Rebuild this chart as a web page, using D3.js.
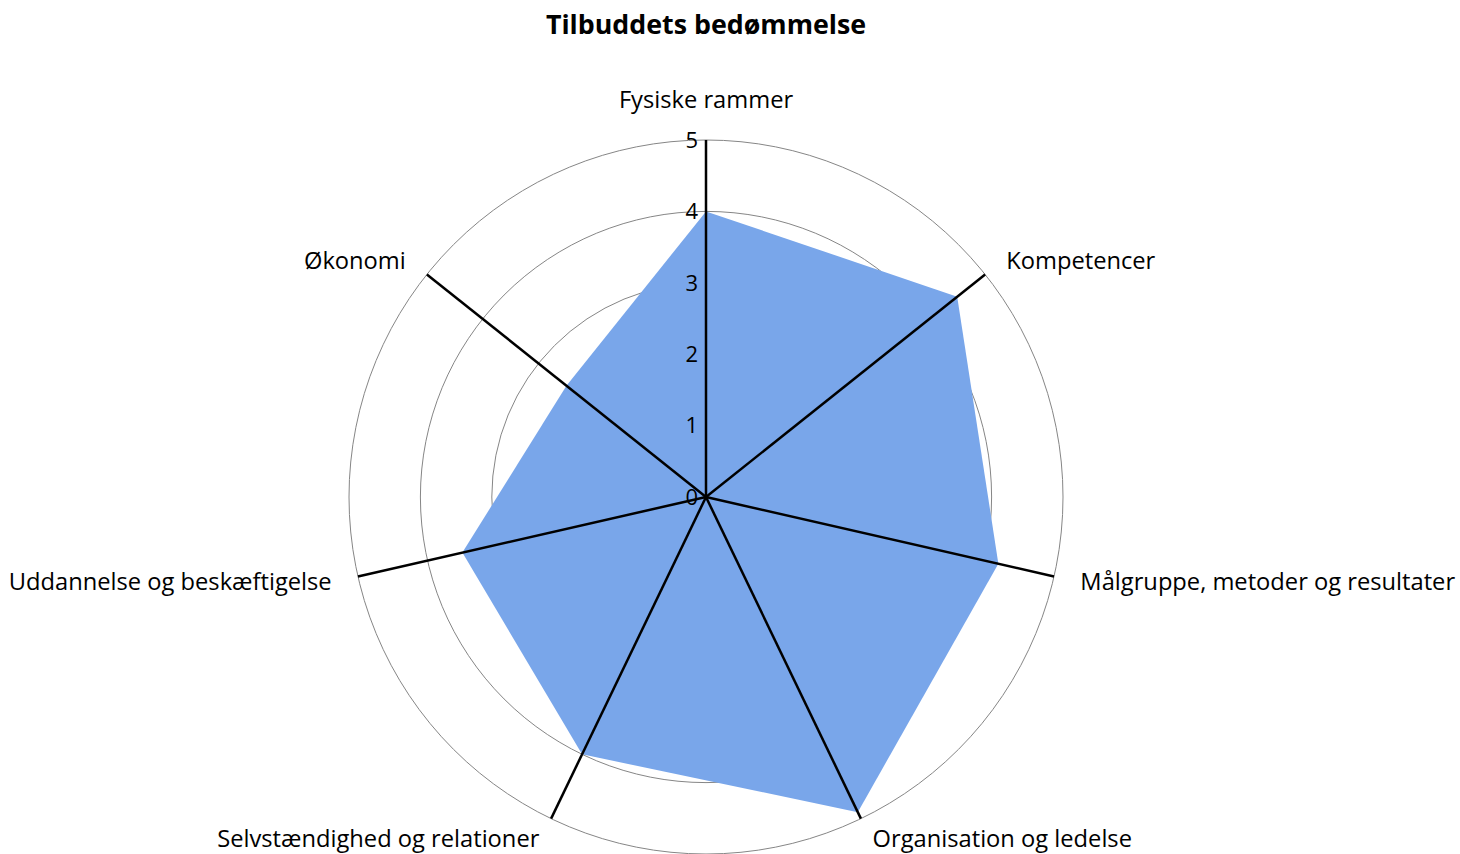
<!DOCTYPE html>
<html>
<head>
<meta charset="utf-8">
<script src="https://cdn.jsdelivr.net/npm/d3@7"></script>
<style>
  body { margin: 0; background: #fff; }
  text { font-family: "Open Sans", sans-serif; fill: #000; }
</style>
</head>
<body>
<script>
  // categories and values
  var categories = [
    "Fysiske rammer",
    "Kompetencer",
    "Målgruppe, metoder og resultater",
    "Organisation og ledelse",
    "Selvstændighed og relationer",
    "Uddannelse og beskæftigelse",
    "Økonomi"
  ];
  var values = [4, 4.5, 4.2, 4.9, 4, 3.5, 2.5];
  var ticks = [0, 1, 2, 3, 4, 5];

  var width = 1460, height = 854;
  var cx = 706, cy = 497;

  var svg = d3.select("body").append("svg")
      .attr("width", width)
      .attr("height", height);

  var r = d3.scaleLinear().domain([0, 5]).range([0, 357]);
  var angle = d3.scaleLinear().domain([0, categories.length]).range([0, 2 * Math.PI]);

  var g = svg.append("g").attr("transform", "translate(" + cx + "," + cy + ")");

  // circular gridlines
  g.selectAll("circle.grid")
    .data(ticks.slice(1))
    .enter().append("circle")
      .attr("class", "grid")
      .attr("r", d => r(d))
      .attr("fill", "none")
      .attr("stroke", "#868686")
      .attr("stroke-width", 1);

  // filled series
  var radial = d3.lineRadial()
      .angle((d, i) => angle(i))
      .radius(d => r(d))
      .curve(d3.curveLinearClosed);

  g.append("path")
    .datum(values)
    .attr("d", radial)
    .attr("fill", "#79a6ea");

  // spokes
  g.selectAll("line.spoke")
    .data(categories)
    .enter().append("line")
      .attr("class", "spoke")
      .attr("x1", 0).attr("y1", 0)
      .attr("x2", (d, i) => r(5) * Math.sin(angle(i)))
      .attr("y2", (d, i) => -r(5) * Math.cos(angle(i)))
      .attr("stroke", "#000")
      .attr("stroke-width", 2.5);

  // tick labels
  g.selectAll("text.tick")
    .data(ticks)
    .enter().append("text")
      .attr("class", "tick")
      .attr("x", -8)
      .attr("y", d => -r(d))
      .attr("dy", "0.35em")
      .attr("text-anchor", "end")
      .style("font-size", "22px")
      .text(d => d);

  // category labels
  g.selectAll("text.cat")
    .data(categories)
    .enter().append("text")
      .attr("class", "cat")
      .attr("x", (d, i) => (r(5) + 27) * Math.sin(angle(i)))
      .attr("y", (d, i) => {
        if (i === 0) return -r(5) - 40;
        return -(r(5) + 22) * Math.cos(angle(i));
      })
      .attr("dy", "0.35em")
      .attr("text-anchor", (d, i) => {
        var s = Math.sin(angle(i));
        return Math.abs(s) < 0.01 ? "middle" : (s > 0 ? "start" : "end");
      })
      .style("font-size", "23.7px")
      .text(d => d);

  svg.append("text")
    .attr("x", cx)
    .attr("y", 25)
    .attr("dy", "0.35em")
    .attr("text-anchor", "middle")
    .style("font-size", "26.8px")
    .style("font-weight", "bold")
    .text("Tilbuddets bedømmelse");
</script>
</body>
</html>
